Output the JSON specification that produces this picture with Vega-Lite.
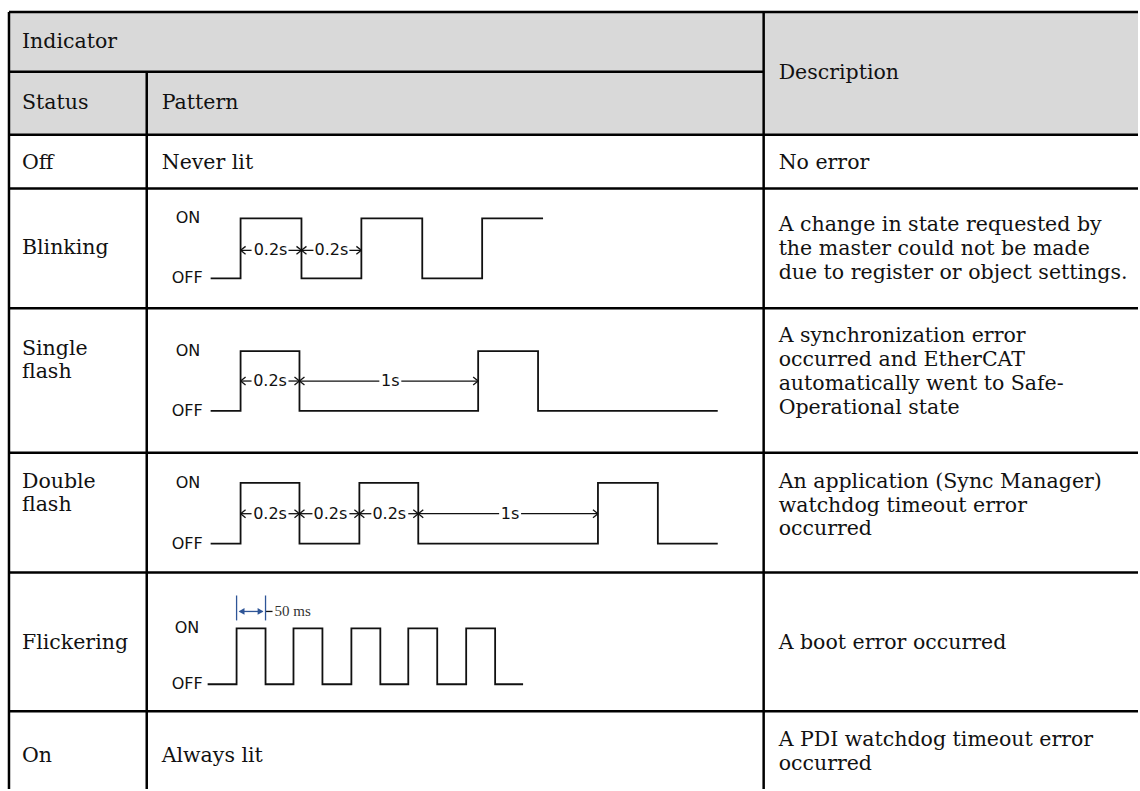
{
  "$schema": "https://vega.github.io/schema/vega-lite/v6.json",
  "width": 1140,
  "height": 791,
  "autosize": {"type": "fit", "contains": "padding"},
  "padding": 0,
  "background": "white",
  "config": {"view": {"stroke": null}},
  "datasets": {
    "header": [{"x": 9, "y": 12, "x2": 1140, "y2": 135}],
    "grid": [
      {"x": 9, "y": 12, "x2": 1140, "y2": 12},
      {"x": 9, "y": 72, "x2": 765, "y2": 72},
      {"x": 9, "y": 135, "x2": 1140, "y2": 135},
      {"x": 9, "y": 189, "x2": 1140, "y2": 189},
      {"x": 9, "y": 309, "x2": 1140, "y2": 309},
      {"x": 9, "y": 454, "x2": 1140, "y2": 454},
      {"x": 9, "y": 574, "x2": 1140, "y2": 574},
      {"x": 9, "y": 713, "x2": 1140, "y2": 713},
      {"x": 9, "y": 12, "x2": 9, "y2": 791},
      {"x": 147, "y": 72, "x2": 147, "y2": 791},
      {"x": 765, "y": 12, "x2": 765, "y2": 791}
    ],
    "cells": [
      {"x": 22, "y": 42, "t": "Indicator"},
      {"x": 22, "y": 103, "t": "Status"},
      {"x": 162, "y": 103, "t": "Pattern"},
      {"x": 780, "y": 73, "t": "Description"},
      {"x": 22, "y": 163, "t": "Off"},
      {"x": 162, "y": 163, "t": "Never lit"},
      {"x": 780, "y": 163, "t": "No error"},
      {"x": 22, "y": 249, "t": "Blinking"},
      {"x": 780, "y": 226, "t": "A change in state requested by"},
      {"x": 780, "y": 250, "t": "the master could not be made"},
      {"x": 780, "y": 274, "t": "due to register or object settings."},
      {"x": 22, "y": 350, "t": "Single"},
      {"x": 22, "y": 373, "t": "flash"},
      {"x": 780, "y": 337, "t": "A synchronization error"},
      {"x": 780, "y": 361, "t": "occurred and EtherCAT"},
      {"x": 780, "y": 385, "t": "automatically went to Safe-"},
      {"x": 780, "y": 409, "t": "Operational state"},
      {"x": 22, "y": 483, "t": "Double"},
      {"x": 22, "y": 506, "t": "flash"},
      {"x": 780, "y": 483, "t": "An application (Sync Manager)"},
      {"x": 780, "y": 507, "t": "watchdog timeout error"},
      {"x": 780, "y": 530, "t": "occurred"},
      {"x": 22, "y": 645, "t": "Flickering"},
      {"x": 780, "y": 645, "t": "A boot error occurred"},
      {"x": 22, "y": 758, "t": "On"},
      {"x": 162, "y": 758, "t": "Always lit"},
      {"x": 780, "y": 742, "t": "A PDI watchdog timeout error"},
      {"x": 780, "y": 766, "t": "occurred"}
    ],
    "levels": [
      {"x": 176, "y": 219, "t": "ON"}, {"x": 172, "y": 279, "t": "OFF"},
      {"x": 176, "y": 352, "t": "ON"}, {"x": 172, "y": 412, "t": "OFF"},
      {"x": 176, "y": 484, "t": "ON"}, {"x": 172, "y": 545, "t": "OFF"},
      {"x": 175, "y": 630, "t": "ON"}, {"x": 172, "y": 686, "t": "OFF"}
    ],
    "durations": [
      {"x": 271, "y": 251, "t": "0.2s"}, {"x": 332, "y": 251, "t": "0.2s"},
      {"x": 270.5, "y": 382, "t": "0.2s"}, {"x": 391, "y": 382, "t": "1s"},
      {"x": 270.5, "y": 515, "t": "0.2s"}, {"x": 331, "y": 515, "t": "0.2s"},
      {"x": 390, "y": 515, "t": "0.2s"}, {"x": 511, "y": 515, "t": "1s"}
    ],
    "waves": [
      {"w": "blink", "i": 0, "x": 211, "y": 279}, {"w": "blink", "i": 1, "x": 241, "y": 279},
      {"w": "blink", "i": 2, "x": 241, "y": 219}, {"w": "blink", "i": 3, "x": 302, "y": 219},
      {"w": "blink", "i": 4, "x": 302, "y": 279}, {"w": "blink", "i": 5, "x": 362, "y": 279},
      {"w": "blink", "i": 6, "x": 362, "y": 219}, {"w": "blink", "i": 7, "x": 423, "y": 219},
      {"w": "blink", "i": 8, "x": 423, "y": 279}, {"w": "blink", "i": 9, "x": 483, "y": 279},
      {"w": "blink", "i": 10, "x": 483, "y": 219}, {"w": "blink", "i": 11, "x": 544, "y": 219},
      {"w": "single", "i": 0, "x": 211, "y": 412}, {"w": "single", "i": 1, "x": 241, "y": 412},
      {"w": "single", "i": 2, "x": 241, "y": 352}, {"w": "single", "i": 3, "x": 300, "y": 352},
      {"w": "single", "i": 4, "x": 300, "y": 412}, {"w": "single", "i": 5, "x": 479, "y": 412},
      {"w": "single", "i": 6, "x": 479, "y": 352}, {"w": "single", "i": 7, "x": 539, "y": 352},
      {"w": "single", "i": 8, "x": 539, "y": 412}, {"w": "single", "i": 9, "x": 719, "y": 412},
      {"w": "double", "i": 0, "x": 211, "y": 545}, {"w": "double", "i": 1, "x": 241, "y": 545},
      {"w": "double", "i": 2, "x": 241, "y": 484}, {"w": "double", "i": 3, "x": 300, "y": 484},
      {"w": "double", "i": 4, "x": 300, "y": 545}, {"w": "double", "i": 5, "x": 360, "y": 545},
      {"w": "double", "i": 6, "x": 360, "y": 484}, {"w": "double", "i": 7, "x": 419, "y": 484},
      {"w": "double", "i": 8, "x": 419, "y": 545}, {"w": "double", "i": 9, "x": 599, "y": 545},
      {"w": "double", "i": 10, "x": 599, "y": 484}, {"w": "double", "i": 11, "x": 659, "y": 484},
      {"w": "double", "i": 12, "x": 659, "y": 545}, {"w": "double", "i": 13, "x": 719, "y": 545},
      {"w": "flicker", "i": 0, "x": 208, "y": 686}, {"w": "flicker", "i": 1, "x": 237, "y": 686},
      {"w": "flicker", "i": 2, "x": 237, "y": 630}, {"w": "flicker", "i": 3, "x": 266, "y": 630},
      {"w": "flicker", "i": 4, "x": 266, "y": 686}, {"w": "flicker", "i": 5, "x": 294, "y": 686},
      {"w": "flicker", "i": 6, "x": 294, "y": 630}, {"w": "flicker", "i": 7, "x": 323, "y": 630},
      {"w": "flicker", "i": 8, "x": 323, "y": 686}, {"w": "flicker", "i": 9, "x": 352, "y": 686},
      {"w": "flicker", "i": 10, "x": 352, "y": 630}, {"w": "flicker", "i": 11, "x": 381, "y": 630},
      {"w": "flicker", "i": 12, "x": 381, "y": 686}, {"w": "flicker", "i": 13, "x": 409, "y": 686},
      {"w": "flicker", "i": 14, "x": 409, "y": 630}, {"w": "flicker", "i": 15, "x": 438, "y": 630},
      {"w": "flicker", "i": 16, "x": 438, "y": 686}, {"w": "flicker", "i": 17, "x": 467, "y": 686},
      {"w": "flicker", "i": 18, "x": 467, "y": 630}, {"w": "flicker", "i": 19, "x": 496, "y": 630},
      {"w": "flicker", "i": 20, "x": 496, "y": 686}, {"w": "flicker", "i": 21, "x": 524, "y": 686}
    ],
    "dims": [
      {"x": 241, "y": 251, "x2": 252, "y2": 251}, {"x": 289, "y": 251, "x2": 302, "y2": 251},
      {"x": 302, "y": 251, "x2": 314, "y2": 251}, {"x": 350, "y": 251, "x2": 362, "y2": 251},
      {"x": 241, "y": 251, "x2": 246, "y2": 247}, {"x": 241, "y": 251, "x2": 246, "y2": 255},
      {"x": 302, "y": 251, "x2": 297, "y2": 247}, {"x": 302, "y": 251, "x2": 297, "y2": 255},
      {"x": 302, "y": 251, "x2": 307, "y2": 247}, {"x": 302, "y": 251, "x2": 307, "y2": 255},
      {"x": 362, "y": 251, "x2": 357, "y2": 247}, {"x": 362, "y": 251, "x2": 357, "y2": 255},

      {"x": 241, "y": 382, "x2": 252, "y2": 382}, {"x": 289, "y": 382, "x2": 300, "y2": 382},
      {"x": 300, "y": 382, "x2": 380, "y2": 382}, {"x": 402, "y": 382, "x2": 479, "y2": 382},
      {"x": 241, "y": 382, "x2": 246, "y2": 378}, {"x": 241, "y": 382, "x2": 246, "y2": 386},
      {"x": 300, "y": 382, "x2": 295, "y2": 378}, {"x": 300, "y": 382, "x2": 295, "y2": 386},
      {"x": 300, "y": 382, "x2": 305, "y2": 378}, {"x": 300, "y": 382, "x2": 305, "y2": 386},
      {"x": 479, "y": 382, "x2": 474, "y2": 378}, {"x": 479, "y": 382, "x2": 474, "y2": 386},

      {"x": 241, "y": 515, "x2": 252, "y2": 515}, {"x": 289, "y": 515, "x2": 300, "y2": 515},
      {"x": 300, "y": 515, "x2": 313, "y2": 515}, {"x": 350, "y": 515, "x2": 360, "y2": 515},
      {"x": 360, "y": 515, "x2": 372, "y2": 515}, {"x": 409, "y": 515, "x2": 419, "y2": 515},
      {"x": 419, "y": 515, "x2": 500, "y2": 515}, {"x": 522, "y": 515, "x2": 599, "y2": 515},
      {"x": 241, "y": 515, "x2": 246, "y2": 511}, {"x": 241, "y": 515, "x2": 246, "y2": 519},
      {"x": 300, "y": 515, "x2": 295, "y2": 511}, {"x": 300, "y": 515, "x2": 295, "y2": 519},
      {"x": 300, "y": 515, "x2": 305, "y2": 511}, {"x": 300, "y": 515, "x2": 305, "y2": 519},
      {"x": 360, "y": 515, "x2": 355, "y2": 511}, {"x": 360, "y": 515, "x2": 355, "y2": 519},
      {"x": 360, "y": 515, "x2": 365, "y2": 511}, {"x": 360, "y": 515, "x2": 365, "y2": 519},
      {"x": 419, "y": 515, "x2": 414, "y2": 511}, {"x": 419, "y": 515, "x2": 414, "y2": 519},
      {"x": 419, "y": 515, "x2": 424, "y2": 511}, {"x": 419, "y": 515, "x2": 424, "y2": 519},
      {"x": 599, "y": 515, "x2": 594, "y2": 511}, {"x": 599, "y": 515, "x2": 594, "y2": 519},

      {"x": 266, "y": 613, "x2": 273, "y2": 613}
    ],
    "marker": [
      {"x": 237, "y": 597, "x2": 237, "y2": 622},
      {"x": 266, "y": 597, "x2": 266, "y2": 622},
      {"x": 240, "y": 613, "x2": 263, "y2": 613}
    ],
    "heads": [
      {"x": 242, "y": 613, "d": "left"},
      {"x": 261, "y": 613, "d": "right"}
    ],
    "note": [{"x": 275, "y": 613, "t": "50 ms"}]
  },
  "layer": [
    {
      "data": {"name": "header"},
      "mark": {"type": "rect", "fill": "#d9d9d9"},
      "encoding": {
        "x": {"field": "x", "type": "quantitative", "scale": {"domain": [0, 1140], "nice": false, "zero": false}, "axis": null},
        "y": {"field": "y", "type": "quantitative", "scale": {"domain": [0, 791], "nice": false, "zero": false, "reverse": true}, "axis": null},
        "x2": {"field": "x2"},
        "y2": {"field": "y2"}
      }
    },
    {
      "data": {"name": "grid"},
      "mark": {"type": "rule", "color": "#000000", "strokeWidth": 2.5},
      "encoding": {
        "x": {"field": "x", "type": "quantitative", "scale": {"domain": [0, 1140], "nice": false, "zero": false}, "axis": null},
        "y": {"field": "y", "type": "quantitative", "scale": {"domain": [0, 791], "nice": false, "zero": false, "reverse": true}, "axis": null},
        "x2": {"field": "x2"},
        "y2": {"field": "y2"}
      }
    },
    {
      "data": {"name": "cells"},
      "mark": {"type": "text", "align": "left", "baseline": "middle", "font": "DejaVu Serif", "fontSize": 20.5, "color": "#111111"},
      "encoding": {
        "x": {"field": "x", "type": "quantitative", "scale": {"domain": [0, 1140], "nice": false, "zero": false}, "axis": null},
        "y": {"field": "y", "type": "quantitative", "scale": {"domain": [0, 791], "nice": false, "zero": false, "reverse": true}, "axis": null},
        "text": {"field": "t"}
      }
    },
    {
      "data": {"name": "waves"},
      "mark": {"type": "line", "color": "#111111", "strokeWidth": 1.8, "interpolate": "linear"},
      "encoding": {
        "x": {"field": "x", "type": "quantitative", "scale": {"domain": [0, 1140], "nice": false, "zero": false}, "axis": null},
        "y": {"field": "y", "type": "quantitative", "scale": {"domain": [0, 791], "nice": false, "zero": false, "reverse": true}, "axis": null},
        "detail": {"field": "w"},
        "order": {"field": "i", "type": "quantitative"}
      }
    },
    {
      "data": {"name": "dims"},
      "mark": {"type": "rule", "color": "#111111", "strokeWidth": 1.3},
      "encoding": {
        "x": {"field": "x", "type": "quantitative", "scale": {"domain": [0, 1140], "nice": false, "zero": false}, "axis": null},
        "y": {"field": "y", "type": "quantitative", "scale": {"domain": [0, 791], "nice": false, "zero": false, "reverse": true}, "axis": null},
        "x2": {"field": "x2"},
        "y2": {"field": "y2"}
      }
    },
    {
      "data": {"name": "marker"},
      "mark": {"type": "rule", "color": "#2e5597", "strokeWidth": 1.3},
      "encoding": {
        "x": {"field": "x", "type": "quantitative", "scale": {"domain": [0, 1140], "nice": false, "zero": false}, "axis": null},
        "y": {"field": "y", "type": "quantitative", "scale": {"domain": [0, 791], "nice": false, "zero": false, "reverse": true}, "axis": null},
        "x2": {"field": "x2"},
        "y2": {"field": "y2"}
      }
    },
    {
      "data": {"name": "heads"},
      "mark": {"type": "point", "filled": true, "size": 45, "color": "#2e5597", "opacity": 1},
      "encoding": {
        "x": {"field": "x", "type": "quantitative", "scale": {"domain": [0, 1140], "nice": false, "zero": false}, "axis": null},
        "y": {"field": "y", "type": "quantitative", "scale": {"domain": [0, 791], "nice": false, "zero": false, "reverse": true}, "axis": null},
        "shape": {"field": "d", "type": "nominal", "scale": {"domain": ["left", "right"], "range": ["triangle-left", "triangle-right"]}, "legend": null}
      }
    },
    {
      "data": {"name": "levels"},
      "mark": {"type": "text", "align": "left", "baseline": "middle", "font": "DejaVu Sans", "fontSize": 16, "color": "#111111"},
      "encoding": {
        "x": {"field": "x", "type": "quantitative", "scale": {"domain": [0, 1140], "nice": false, "zero": false}, "axis": null},
        "y": {"field": "y", "type": "quantitative", "scale": {"domain": [0, 791], "nice": false, "zero": false, "reverse": true}, "axis": null},
        "text": {"field": "t"}
      }
    },
    {
      "data": {"name": "durations"},
      "mark": {"type": "text", "align": "center", "baseline": "middle", "font": "DejaVu Sans", "fontSize": 16, "color": "#111111"},
      "encoding": {
        "x": {"field": "x", "type": "quantitative", "scale": {"domain": [0, 1140], "nice": false, "zero": false}, "axis": null},
        "y": {"field": "y", "type": "quantitative", "scale": {"domain": [0, 791], "nice": false, "zero": false, "reverse": true}, "axis": null},
        "text": {"field": "t"}
      }
    },
    {
      "data": {"name": "note"},
      "mark": {"type": "text", "align": "left", "baseline": "middle", "font": "Liberation Serif", "fontSize": 15, "color": "#333333"},
      "encoding": {
        "x": {"field": "x", "type": "quantitative", "scale": {"domain": [0, 1140], "nice": false, "zero": false}, "axis": null},
        "y": {"field": "y", "type": "quantitative", "scale": {"domain": [0, 791], "nice": false, "zero": false, "reverse": true}, "axis": null},
        "text": {"field": "t"}
      }
    }
  ]
}
